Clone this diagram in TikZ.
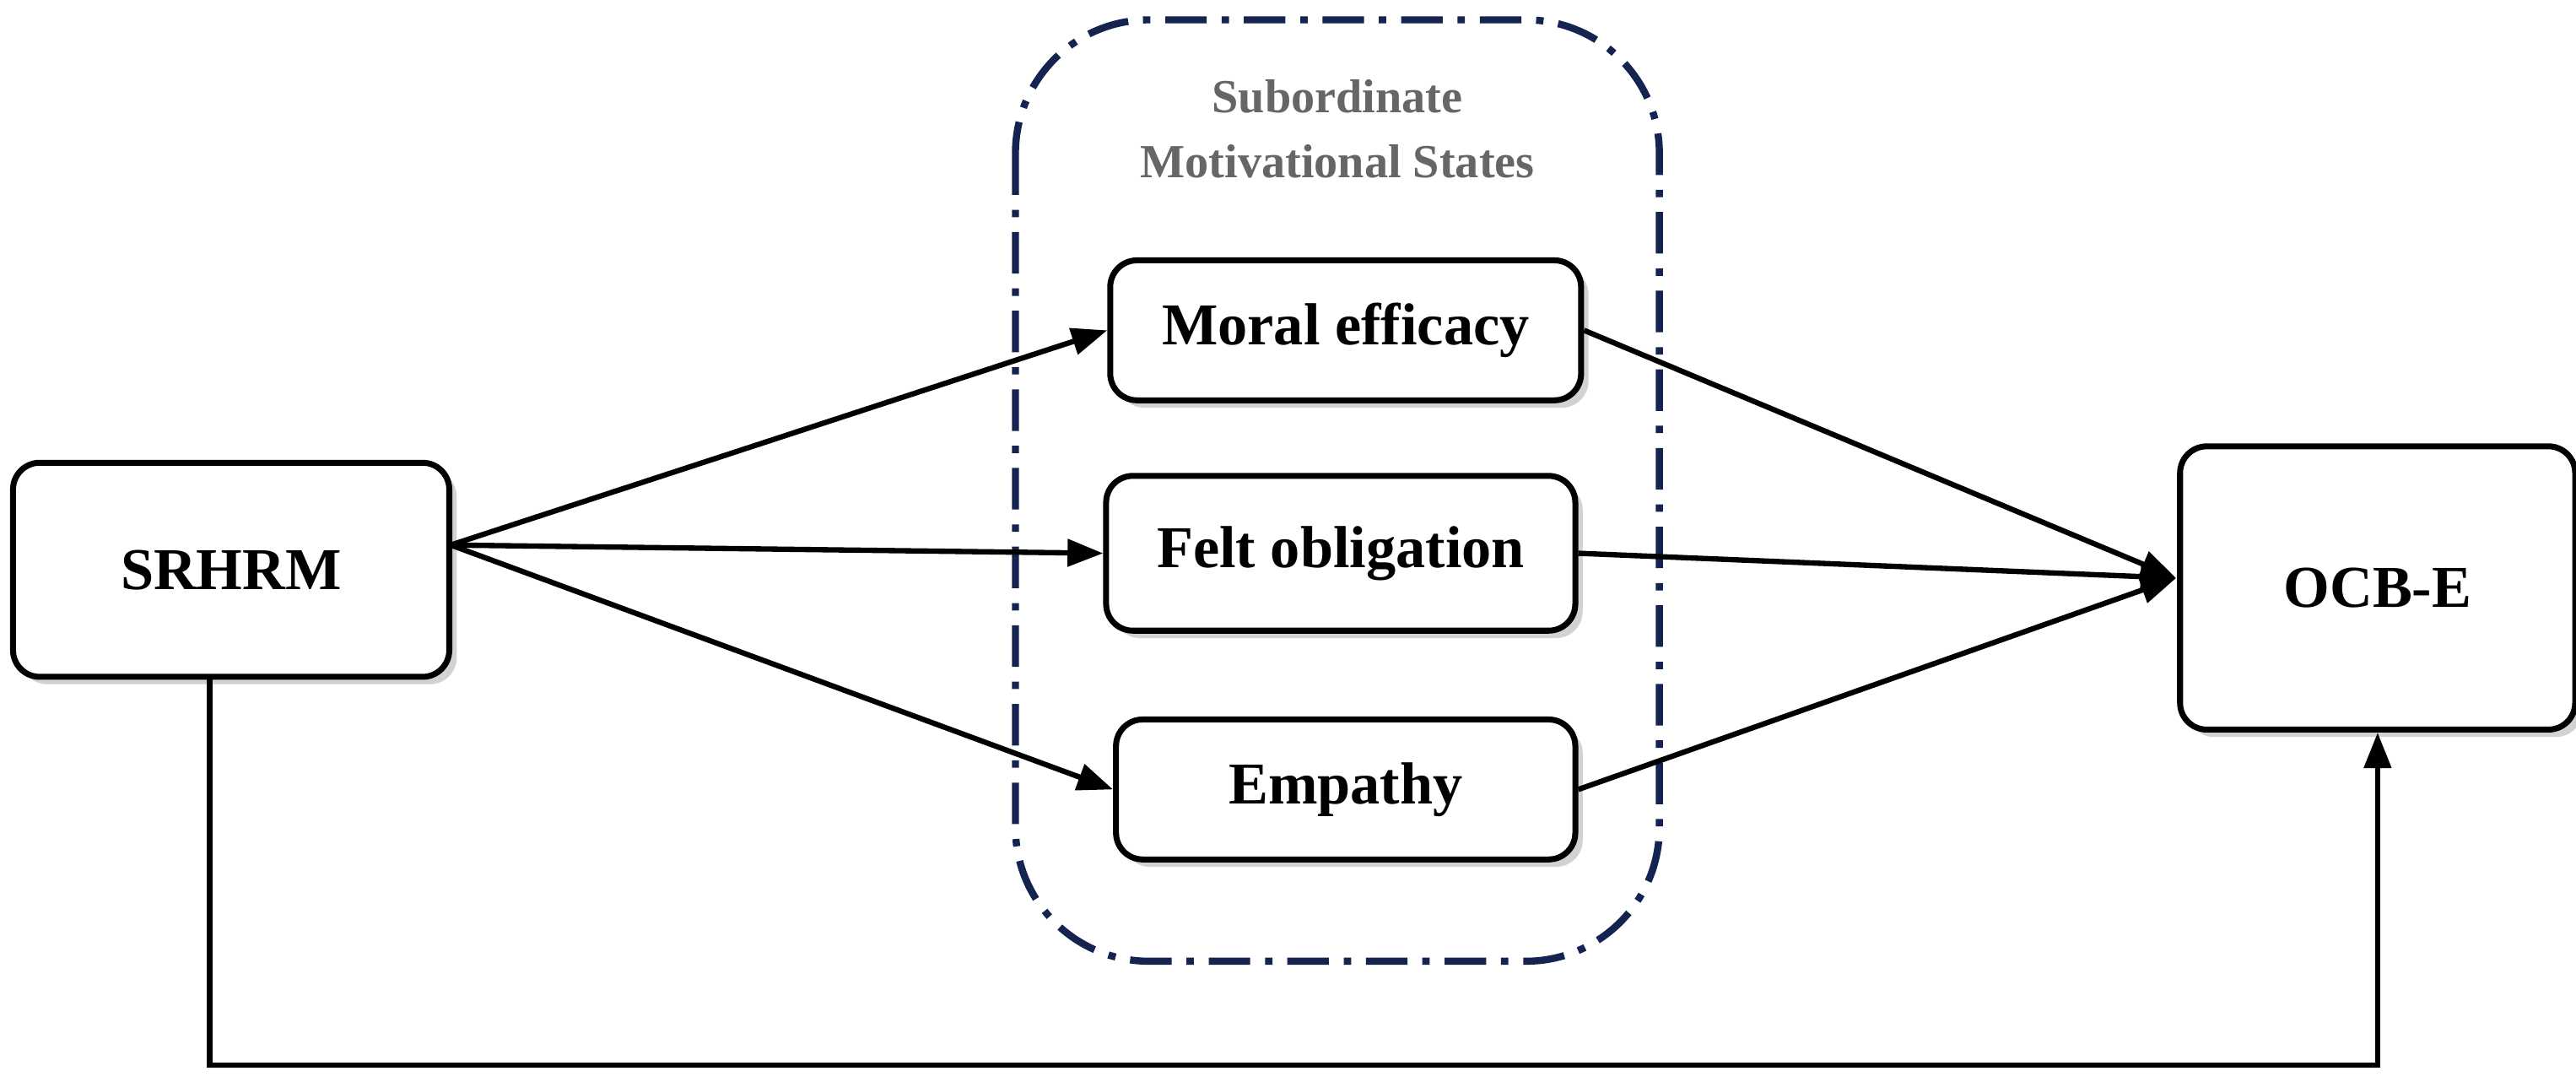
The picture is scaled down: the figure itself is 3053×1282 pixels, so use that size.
\documentclass[tikz,border=0pt]{standalone}
\usepackage{fontspec}
\setmainfont{Liberation Serif}
\usetikzlibrary{arrows.meta,shadows}
\definecolor{navy}{RGB}{20,35,80}
\begin{document}
\begin{tikzpicture}[x=0.01cm,y=-0.01cm,
  box/.style={draw,line width=2pt,rounded corners=9pt,fill=white,
    drop shadow={shadow xshift=2.5pt,shadow yshift=-2.5pt,fill=black!35},
    font=\fontsize{20}{24}\selectfont\bfseries},
  arr/.style={line width=1.8pt,-{Triangle[length=12pt,width=9pt]}}]
\useasboundingbox (0,0) rectangle (3053,1282);
\begin{scope}[x=0.01cm*1.9569,y=-0.01cm*1.9569]
\draw[navy,line width=2.4pt,dash pattern=on 14pt off 5pt on 2.5pt off 5pt,rounded corners=45pt] (615,12) rectangle (1005,582);
\node[text=black!60,font=\fontsize{16}{22}\selectfont\bfseries,align=center] (t) at (810,78) {Subordinate\\Motivational States};
\node[box,minimum width=265*0.0195cm,minimum height=130*0.0195cm] (s) at (140,345) {SRHRM};
\node[box,minimum width=240*0.0195cm,minimum height=172*0.0195cm] (o) at (1440,356) {OCB-E};
\node[box,minimum width=286*0.0195cm,minimum height=85*0.0195cm] (m) at (815,200) {Moral efficacy};
\node[box,minimum width=285*0.0195cm,minimum height=94*0.0195cm] (f) at (812,335) {Felt obligation};
\node[box,minimum width=279*0.0195cm,minimum height=85*0.0195cm] (e) at (815,478) {Empathy};
\coordinate (sr) at (273,330);
\coordinate (oin) at (1318,350);
\draw[arr] (sr) -- (m.west);
\draw[arr] (sr) -- (f.west);
\draw[arr] (sr) -- (e.west);
\draw[arr] (m.east) -- (oin);
\draw[arr] (f.east) -- (oin);
\draw[arr] (e.east) -- (oin);
\draw[arr] (s.south -| 127,0) -- (127,645) -| (o.south);
\end{scope}
\end{tikzpicture}
\end{document}
